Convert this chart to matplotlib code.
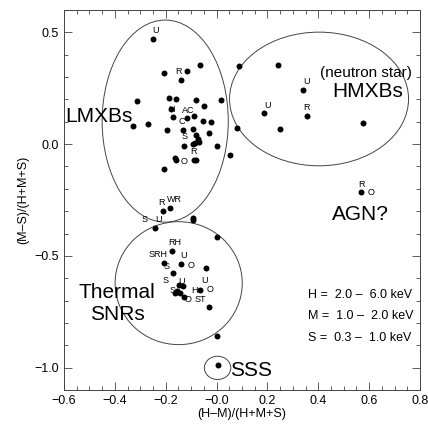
import matplotlib
matplotlib.use("Agg")
import matplotlib.pyplot as plt
from matplotlib.patches import Ellipse
from matplotlib.ticker import MultipleLocator

plt.rcParams['font.family'] = ['Liberation Sans', 'DejaVu Sans']

# hardness ratios
lmxb_x = [-0.251, -0.208, -0.117, -0.067, -0.141, -0.313, -0.188, -0.160, -0.080, 0.017,
          -0.048, -0.179, -0.117, -0.172, -0.087, -0.054, -0.022, -0.327, -0.268, -0.193,
          -0.133, -0.091, -0.030, -0.079, -0.074, -0.070, -0.084, -0.130, -0.091, 0.000,
          0.054, -0.162, -0.160, -0.090, -0.081, -0.205, 0.090, 0.082]
lmxb_y = [0.470, 0.320, 0.327, 0.352, 0.286, 0.192, 0.206, 0.200, 0.196, 0.199,
          0.170, 0.156, 0.115, 0.120, 0.124, 0.104, 0.097, 0.083, 0.092, 0.062,
          0.062, 0.066, 0.049, 0.040, 0.025, 0.010, 0.003, -0.009, 0.000, -0.009,
          -0.050, -0.060, -0.069, -0.069, -0.069, -0.112, 0.348, 0.073]

hmxb_x = [0.241, 0.338, 0.185, 0.355, 0.249, 0.576]
hmxb_y = [0.353, 0.244, 0.137, 0.128, 0.067, 0.095]

agn_x = [0.569]
agn_y = [-0.216]

snr_x = [-0.210, -0.183, -0.091, -0.093, -0.244, 0.000, -0.175, -0.207, -0.139, -0.041,
         -0.170, -0.146, -0.133, -0.156, -0.163, -0.143, -0.130, -0.065, -0.029, 0.001]
snr_y = [-0.299, -0.287, -0.332, -0.339, -0.376, -0.414, -0.478, -0.533, -0.536, -0.552,
         -0.577, -0.629, -0.636, -0.659, -0.666, -0.666, -0.684, -0.652, -0.729, -0.860]

sss_x = [0.007]
sss_y = [-0.990]

# small identification letters: (x, y, text, dx, dy) offsets in points
point_labels = [
    (-0.251, 0.470, 'U', 2, 6), (-0.117, 0.327, 'R', -6, 0),
    (-0.179, 0.156, 'H', 0, 0), (-0.117, 0.115, 'AC', 1, 6),
    (-0.133, 0.062, 'C', -1, 6), (-0.130, -0.009, 'S', 1, 7),
    (-0.090, -0.069, 'R', 0, 6), (-0.162, -0.065, 'O', 6, -2),
    (0.338, 0.244, 'U', 3, 6), (0.185, 0.137, 'U', 3, 6),
    (0.355, 0.128, 'R', 0, 6), (0.569, -0.216, 'R', 0, 6), (0.569, -0.216, 'O', 7, 0),
    (-0.210, -0.299, 'R', -1, 6), (-0.183, -0.287, 'WR', 3, 6),
    (-0.244, -0.376, 'S', -7, 6), (-0.244, -0.376, 'U', 3, 6),
    (-0.175, -0.478, 'RH', 2, 6), (-0.207, -0.533, 'SRH', -4, 6),
    (-0.207, -0.533, 'S', 2, -2), (-0.139, -0.536, 'U', 2, 6),
    (-0.139, -0.536, 'O', 7, -1), (-0.156, -0.659, 'S', -8, 8),
    (-0.156, -0.659, 'S', -3, 1), (-0.143, -0.666, 'U', 1, 8),
    (-0.130, -0.684, 'H', 8, 5), (-0.130, -0.684, 'O', 3, -2),
    (-0.065, -0.652, 'U', 3, 7), (-0.065, -0.652, 'O', 7, 0),
    (-0.065, -0.652, 'ST', 0, -7),
]

# group outlines: centre x, centre y, width, height
groups_cx = [-0.202, 0.403, -0.149, 0.004]
groups_cy = [0.103, 0.202, -0.622, -1.001]
groups_w = [0.496, 0.704, 0.500, 0.104]
groups_h = [0.904, 0.598, 0.550, 0.104]

xticks = [-0.6, -0.4, -0.2, 0.0, 0.2, 0.4, 0.6, 0.8]
xticklabels = ['\u22120.6', '\u22120.4', '\u22120.2', '\u22120.0', '0.2', '0.4', '0.6', '0.8']
yticks = [-1.0, -0.5, 0.0, 0.5]
yticklabels = ['\u22121.0', '\u22120.5', '0.0', '0.5']

fig = plt.figure(figsize=(4.28, 4.24), dpi=100)
ax = fig.add_axes([64 / 428, 34 / 424, 356 / 428, 380 / 424])

for xs, ys in [(lmxb_x, lmxb_y), (hmxb_x, hmxb_y), (agn_x, agn_y), (snr_x, snr_y), (sss_x, sss_y)]:
    ax.plot(xs, ys, 'o', color='black', ms=4.3, mec='none')

for cx, cy, w, h in zip(groups_cx, groups_cy, groups_w, groups_h):
    ax.add_patch(Ellipse((cx, cy), w, h, fill=False, ec='#444444', lw=0.7))

for x, y, t, dx, dy in point_labels:
    ax.annotate(t, (x, y), xytext=(dx, dy), textcoords='offset points',
                ha='center', va='center', fontsize=6.5)

ax.text(-0.596, 0.125, 'LMXBs', fontsize=15, ha='left', va='center')
ax.text(0.587, 0.318, '(neutron star)', fontsize=11, ha='center', va='center')
ax.text(0.595, 0.237, 'HMXBs', fontsize=15, ha='center', va='center')
ax.text(0.567, -0.317, 'AGN?', fontsize=15, ha='center', va='center')
ax.text(-0.391, -0.665, 'Thermal', fontsize=15, ha='center', va='center')
ax.text(-0.391, -0.763, 'SNRs', fontsize=15, ha='center', va='center')
ax.text(0.054, -1.013, 'SSS', fontsize=15, ha='left', va='center')
ax.text(0.361, -0.674, 'H =  2.0 \u2013  6.0 keV', fontsize=9, ha='left', va='center')
ax.text(0.361, -0.771, 'M =  1.0 \u2013  2.0 keV', fontsize=9, ha='left', va='center')
ax.text(0.361, -0.866, 'S =  0.3 \u2013  1.0 keV', fontsize=9, ha='left', va='center')

ax.set_xlim(-0.6, 0.8)
ax.set_ylim(-1.1, 0.6)
ax.set_xticks(xticks)
ax.set_xticklabels(xticklabels)
ax.set_yticks(yticks)
ax.set_yticklabels(yticklabels)
ax.xaxis.set_minor_locator(MultipleLocator(0.05))
ax.yaxis.set_minor_locator(MultipleLocator(0.1))
ax.tick_params(which='both', direction='in', top=True, right=True, width=0.6,
               color='#444444', labelsize=9)
ax.tick_params(which='major', length=6)
ax.tick_params(which='minor', length=3)
for s in ax.spines.values():
    s.set_linewidth(0.7)
    s.set_color('#444444')

ax.set_xlabel('(H\u2013M)/(H+M+S)', fontsize=9, labelpad=1)
ax.set_ylabel('(M\u2013S)/(H+M+S)', fontsize=9, labelpad=4)

fig.savefig('out.png', dpi=100)
